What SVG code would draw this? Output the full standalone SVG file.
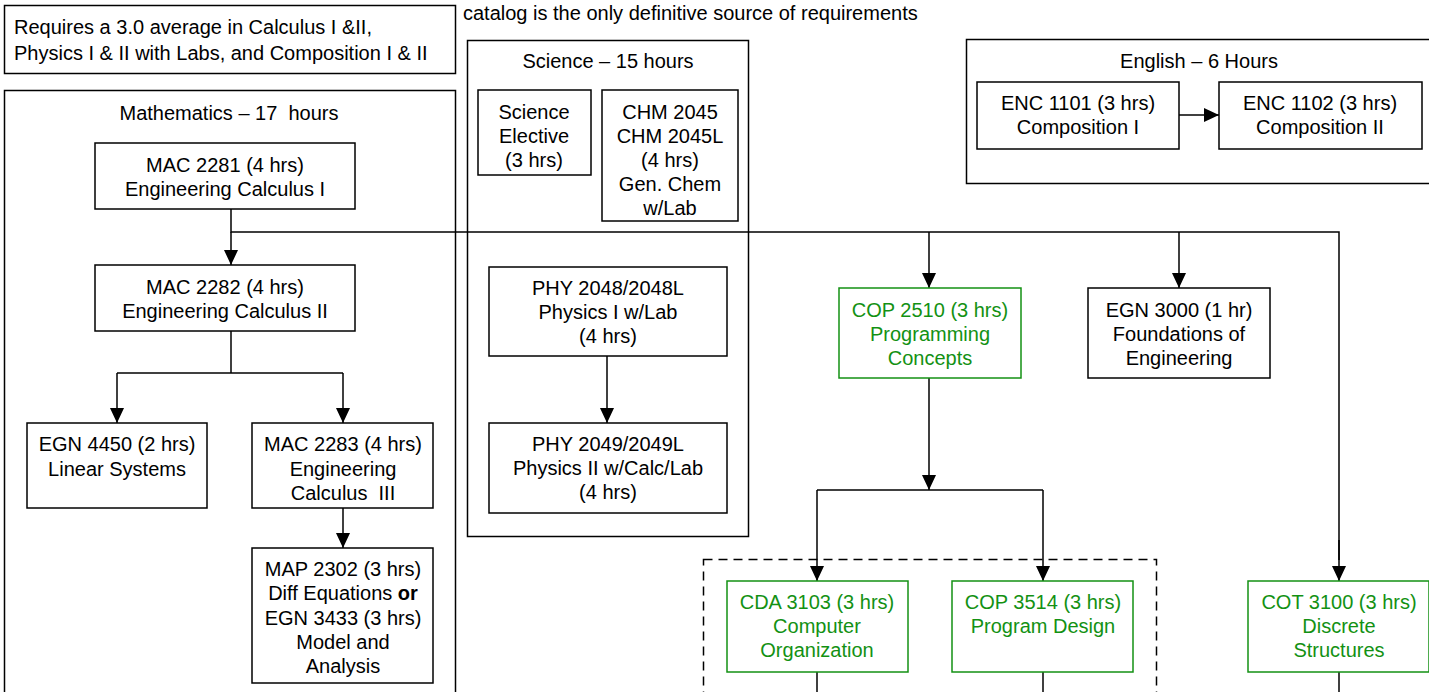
<svg xmlns="http://www.w3.org/2000/svg" width="1429" height="692" viewBox="0 0 1429 692">
<defs>
<marker id="ahb" viewBox="0 0 15 14" refX="15" refY="7" markerWidth="15" markerHeight="14" markerUnits="userSpaceOnUse" orient="auto">
<path d="M0,0 L15,7 L0,14 z" fill="#000"/>
</marker>
</defs>
<style>
text{font-family:"Liberation Sans",Arial,sans-serif;font-size:20px;fill:#000;white-space:pre}
.c{text-anchor:middle}
.box{fill:#fff;stroke:#000;stroke-width:1.5}
.grp{fill:none;stroke:#000;stroke-width:1.5}
.g{fill:#fff;stroke:#139113;stroke-width:1.5}
.gt{fill:#139113}
.dash{fill:none;stroke:#000;stroke-width:1.5;stroke-dasharray:9,6}
.ln{fill:none;stroke:#000;stroke-width:1.5}
.ar{fill:none;stroke:#000;stroke-width:1.5;marker-end:url(#ahb)}
</style>
<rect width="1429" height="692" fill="#fff"/>

<g id="note">
<rect class="box" x="4.5" y="5.5" width="451" height="68"/>
<text x="14" y="34">Requires a 3.0 average in Calculus I &amp;II,</text>
<text x="14" y="60">Physics I &amp; II with Labs, and Composition I &amp; II</text>
</g>
<g id="catalog">
<text x="463" y="20">catalog is the only definitive source of requirements</text>
</g>

<g id="math-group">
<rect class="grp" x="4.5" y="90.5" width="451" height="610"/>
<text class="c" x="229" y="120" xml:space="preserve">Mathematics – 17  hours</text>
</g>
<g id="science-group">
<rect class="grp" x="467.5" y="40.5" width="281" height="496"/>
<text class="c" x="608" y="68">Science – 15 hours</text>
</g>
<g id="english-group">
<rect class="grp" x="966.5" y="39.5" width="470" height="144"/>
<text class="c" x="1199" y="68">English – 6 Hours</text>
</g>
<g id="dashed-group">
<rect class="dash" x="703.5" y="559.5" width="453" height="150"/>
</g>

<g id="connectors">
<polyline class="ln" points="231,209 231,232 1339,232 1339,560"/>
<path class="ar" d="M1339,540 L1339,581"/>
<path class="ar" d="M231,232 L231,265"/>
<polyline class="ln" points="231,331 231,373"/>
<polyline class="ln" points="117,373 343,373"/>
<path class="ar" d="M117,373 L117,423"/>
<path class="ar" d="M343,373 L343,423"/>
<path class="ar" d="M343,508 L343,548"/>
<path class="ar" d="M607,356 L607,423"/>
<path class="ar" d="M1179,115 L1219,115"/>
<path class="ar" d="M929,232 L929,288"/>
<path class="ar" d="M1179,232 L1179,288"/>
<path class="ar" d="M929,378 L929,490"/>
<polyline class="ln" points="817,490 1043,490"/>
<path class="ar" d="M817,490 L817,581"/>
<path class="ar" d="M1043,490 L1043,581"/>
<path class="ln" d="M817,672 L817,692"/>
<path class="ln" d="M1043,672 L1043,692"/>
<path class="ln" d="M1339,672 L1339,692"/>
</g>

<g id="mac2281">
<rect class="box" x="95" y="143" width="260" height="66"/>
<text class="c" x="225" y="172">MAC 2281 (4 hrs)</text>
<text class="c" x="225" y="196">Engineering Calculus I</text>
</g>
<g id="mac2282">
<rect class="box" x="95" y="265" width="260" height="66"/>
<text class="c" x="225" y="294">MAC 2282 (4 hrs)</text>
<text class="c" x="225" y="318">Engineering Calculus II</text>
</g>
<g id="egn4450">
<rect class="box" x="27" y="423" width="180" height="85"/>
<text class="c" x="117" y="451">EGN 4450 (2 hrs)</text>
<text class="c" x="117" y="476">Linear Systems</text>
</g>
<g id="mac2283">
<rect class="box" x="252" y="423" width="181" height="85"/>
<text class="c" x="343" y="451">MAC 2283 (4 hrs)</text>
<text class="c" x="343" y="476">Engineering</text>
<text class="c" x="343" y="500" xml:space="preserve">Calculus  III</text>
</g>
<g id="map2302">
<rect class="box" x="252" y="548" width="181" height="135"/>
<text class="c" x="343" y="576">MAP 2302 (3 hrs)</text>
<text class="c" x="343" y="600">Diff Equations <tspan font-weight="bold">or</tspan></text>
<text class="c" x="343" y="625">EGN 3433 (3 hrs)</text>
<text class="c" x="343" y="649">Model and</text>
<text class="c" x="343" y="673">Analysis</text>
</g>

<g id="sci-elective">
<rect class="box" x="478" y="90" width="113" height="85"/>
<text class="c" x="534" y="119">Science</text>
<text class="c" x="534" y="143">Elective</text>
<text class="c" x="534" y="167">(3 hrs)</text>
</g>
<g id="chm2045">
<rect class="box" x="602" y="90" width="136" height="131"/>
<text class="c" x="670" y="119">CHM 2045</text>
<text class="c" x="670" y="143">CHM 2045L</text>
<text class="c" x="670" y="167">(4 hrs)</text>
<text class="c" x="670" y="191">Gen. Chem</text>
<text class="c" x="670" y="215">w/Lab</text>
</g>
<g id="phy2048">
<rect class="box" x="489" y="267" width="238" height="89"/>
<text class="c" x="608" y="295">PHY 2048/2048L</text>
<text class="c" x="608" y="319">Physics I w/Lab</text>
<text class="c" x="608" y="343">(4 hrs)</text>
</g>
<g id="phy2049">
<rect class="box" x="489" y="423" width="238" height="90"/>
<text class="c" x="608" y="451">PHY 2049/2049L</text>
<text class="c" x="608" y="475">Physics II w/Calc/Lab</text>
<text class="c" x="608" y="499">(4 hrs)</text>
</g>

<g id="enc1101">
<rect class="box" x="977" y="82" width="202" height="67"/>
<text class="c" x="1078" y="110">ENC 1101 (3 hrs)</text>
<text class="c" x="1078" y="134">Composition I</text>
</g>
<g id="enc1102">
<rect class="box" x="1219" y="82" width="203" height="67"/>
<text class="c" x="1320" y="110">ENC 1102 (3 hrs)</text>
<text class="c" x="1320" y="134">Composition II</text>
</g>

<g id="cop2510">
<rect class="g" x="839" y="288" width="182" height="90"/>
<text class="c gt" x="930" y="317">COP 2510 (3 hrs)</text>
<text class="c gt" x="930" y="341">Programming</text>
<text class="c gt" x="930" y="365">Concepts</text>
</g>
<g id="egn3000">
<rect class="box" x="1088" y="288" width="182" height="90"/>
<text class="c" x="1179" y="317">EGN 3000 (1 hr)</text>
<text class="c" x="1179" y="341">Foundations of</text>
<text class="c" x="1179" y="365">Engineering</text>
</g>
<g id="cda3103">
<rect class="g" x="727" y="581" width="181" height="91"/>
<text class="c gt" x="817" y="609">CDA 3103 (3 hrs)</text>
<text class="c gt" x="817" y="633">Computer</text>
<text class="c gt" x="817" y="657">Organization</text>
</g>
<g id="cop3514">
<rect class="g" x="952" y="581" width="181" height="91"/>
<text class="c gt" x="1043" y="609">COP 3514 (3 hrs)</text>
<text class="c gt" x="1043" y="633">Program Design</text>
</g>
<g id="cot3100">
<rect class="g" x="1248" y="581" width="181" height="91"/>
<text class="c gt" x="1339" y="609">COT 3100 (3 hrs)</text>
<text class="c gt" x="1339" y="633">Discrete</text>
<text class="c gt" x="1339" y="657">Structures</text>
</g>
</svg>
